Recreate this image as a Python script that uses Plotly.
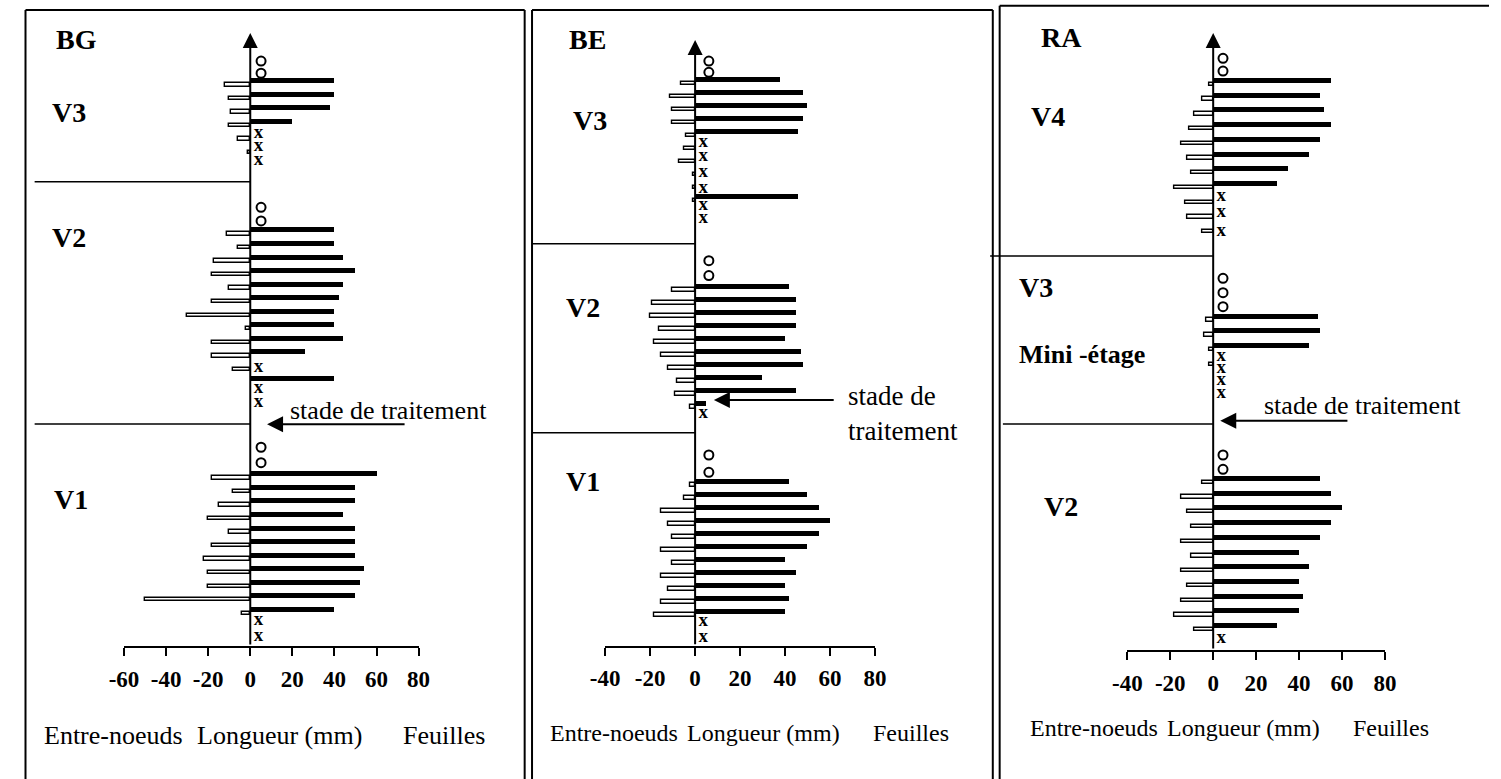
import plotly.graph_objects as go

W, H = 1501, 779
FONT = "Liberation Serif"

# ---------------- DATA ----------------
# Node ranks (position along the stem, counted from the bottom) and lengths in mm
# BG
bg_leaf_rank = [0, 1, 2, 3, 4, 5, 6, 7, 8, 9, 10, 17, 19, 20, 21, 22, 23, 24, 25, 26, 27, 28, 36, 37, 38, 39]
bg_leaf_len = [40, 50, 52, 54, 50, 50, 50, 44, 50, 50, 60, 40, 26, 44, 40, 40, 42, 44, 50, 44, 40, 40, 20, 38, 40, 40]
bg_int_rank = [0, 1, 2, 3, 4, 5, 6, 7, 8, 9, 10, 18, 19, 20, 21, 22, 23, 24, 25, 26, 27, 28, 34, 35, 36, 37, 38, 39]
bg_int_len = [-4, -50, -20, -20, -22, -18, -10, -20, -15, -8, -18, -8, -18, -18, -2, -30, -18, -10, -18, -17, -6, -11, -1, -6, -10, -9, -10, -12]
bg_x_rank = [-2.02, -0.84, 15.3, 16.3, 17.9, 33.16, 34.21, 35.17]
bg_o_rank = [10.82, 11.96, 28.66, 29.67, 39.56, 40.46]
bg_sep_rank = [13.68, 31.56]

# BE
be_leaf_rank = [0, 1, 2, 3, 4, 5, 6, 7, 8, 9, 10, 16, 17, 18, 19, 20, 21, 22, 23, 24, 25, 31.9, 36.9, 37.9, 38.9, 39.9, 40.9]
be_leaf_len = [40, 42, 40, 45, 40, 50, 55, 60, 55, 50, 42, 5, 45, 30, 48, 47, 40, 45, 45, 45, 42, 46, 46, 48, 50, 48, 38]
be_int_rank = [0, 1, 2, 3, 4, 5, 6, 7, 8, 9, 10, 16, 17, 18, 19, 20, 21, 22, 23, 24, 25,
               31.9, 32.9, 33.9, 34.9, 35.9, 36.9, 37.9, 38.9, 39.9, 40.9]
be_int_len = [-18, -15, -12, -15, -10, -15, -10, -12, -15, -5, -2, -2, -9, -8, -12, -15, -18, -16, -20, -19, -10,
              -1, -1, -1, -7, -5, -4, -10, -10, -11, -6]
be_x_rank = [-2.02, -0.82, 15.2, 30.2, 31.18, 32.5, 33.75, 34.95, 36.05]
be_o_rank = [10.67, 12.0, 25.8, 26.95, 41.44, 42.3]
be_sep_rank = [13.72, 28.25]

# RA
ra_leaf_rank = [0, 1, 2, 3, 4, 5, 6, 7, 8, 9, 10, 19, 20, 21, 30, 31, 32, 33, 34, 35, 36, 37]
ra_leaf_len = [30, 40, 42, 40, 45, 40, 50, 55, 60, 55, 50, 45, 50, 49, 30, 35, 45, 50, 55, 52, 50, 55]
ra_int_rank = [0, 1, 2, 3, 4, 5, 6, 7, 8, 9, 10, 18, 19, 20, 21, 27, 28, 29, 30, 31, 32, 33, 34, 35, 36, 37]
ra_int_len = [-9, -18, -15, -12, -15, -10, -15, -10, -12, -15, -5, -2, -2, -4, -3,
              -5, -12, -13, -18, -10, -12, -15, -11, -9, -5, -2]
ra_x_rank = [-0.85, 15.77, 16.67, 17.46, 18.3, 26.76, 28.07, 29.11]
ra_o_rank = [10.61, 11.58, 21.64, 22.59, 23.57, 37.63, 38.49]
ra_sep_rank = [13.68, 25.08]

tick_vals_bg = [-60, -40, -20, 0, 20, 40, 60, 80]
tick_vals_be = [-40, -20, 0, 20, 40, 60, 80]
tick_vals_ra = [-40, -20, 0, 20, 40, 60, 80]

# ---------------- LAYOUT GEOMETRY (pixels) ----------------
panels = [
    dict(name="BG", ticks=tick_vals_bg, xl=111, xr=411, base=646, p0=609.3, s=13.55, top=33,
         leaf=(bg_leaf_rank, bg_leaf_len), inter=(bg_int_rank, bg_int_len),
         xs=bg_x_rank, os=bg_o_rank, seps=bg_sep_rank, sep_left=[20, 20], o_off=11,
         frame=dict(l=10.7, r=519, t=10),
         labels=[("<b>BG</b>", 63, 39, 28), ("<b>V3</b>", 54.5, 112.7, 28), ("<b>V2</b>", 54.5, 238, 28),
                 ("<b>V1</b>", 57.5, 499.3, 28)],
         bottom=[("Entre-noeuds", 100.5), ("Longueur (mm)", 269.5), ("Feuilles", 436.5)], bottom_y=735, bottom_size=26,
         stade=dict(text="stade de traitement", x=380.8, y=410, align="center", size=26),
         arrow=dict(tip=256.7, tail=395.7, y=424.3)),
    dict(name="BE", ticks=tick_vals_be, xl=601, xr=875.7, base=645.7, p0=611, s=13.0, top=40,
         leaf=(be_leaf_rank, be_leaf_len), inter=(be_int_rank, be_int_len),
         xs=be_x_rank, os=be_o_rank, seps=be_sep_rank, sep_left=[526.7, 526.7], o_off=14,
         frame=dict(l=526.5, r=995.7, t=10),
         labels=[("<b>BE</b>", 582.5, 39, 28), ("<b>V3</b>", 585.5, 120.7, 28), ("<b>V2</b>", 578.5, 307, 28),
                 ("<b>V1</b>", 578, 481.7, 28)],
         bottom=[("Entre-noeuds", 610), ("Longueur (mm)", 762.3), ("Feuilles", 912.8)], bottom_y=733, bottom_size=24,
         stade=dict(text="stade de<br>traitement", x=846.7, y=413, align="left", size=27),
         arrow=dict(tip=711.7, tail=833, y=400)),
    dict(name="RA", ticks=tick_vals_ra, xl=1132.7, xr=1395, base=650, p0=625.7, s=14.74, top=33,
         leaf=(ra_leaf_rank, ra_leaf_len), inter=(ra_int_rank, ra_int_len),
         xs=ra_x_rank, os=ra_o_rank, seps=ra_sep_rank, sep_left=[1006, 993], o_off=10,
         frame=dict(l=1002.7, r=None, t=5.7),
         labels=[("<b>RA</b>", 1066, 37.7, 28), ("<b>V4</b>", 1051.5, 116, 28), ("<b>V3</b>", 1040, 287, 28),
                 ("<b>Mini -étage</b>", 1087, 355, 26), ("<b>V2</b>", 1065, 506, 28)],
         bottom=[("Entre-noeuds", 1098.7), ("Longueur (mm)", 1250.5), ("Feuilles", 1400.8)], bottom_y=728, bottom_size=24,
         stade=dict(text="stade de traitement", x=1372, y=405, align="center", size=26),
         arrow=dict(tip=1227.3, tail=1356, y=420.7)),
]

fig = go.Figure()
shapes = []
annotations = []

def px_x(p):
    return p / W

def px_y(p):
    return 1 - p / H

for i, P in enumerate(panels):
    n = "" if i == 0 else str(i + 1)
    xa, ya = "x" + n, "y" + n
    xmin = P["ticks"][0]
    ppu = (P["xr"] - P["xl"]) / (80 - xmin)
    s = P["s"]
    r_base = (P["p0"] - P["base"]) / s
    r_top = P["p0"] / s
    r_tip = (P["p0"] - P["top"]) / s
    axis_px = P["xl"] + (0 - xmin) * ppu

    fig.update_layout(**{
        "xaxis" + n: dict(domain=[P["xl"] / W, P["xr"] / W], range=[xmin, 80], anchor=ya,
                          tickvals=P["ticks"], ticktext=[str(t) for t in P["ticks"]],
                          showline=True, linecolor="black", linewidth=2,
                          ticks="outside", ticklen=8, tickwidth=2, tickcolor="black",
                          showgrid=False, zeroline=False, fixedrange=True,
                          tickfont=dict(family=FONT, size=23, color="black", weight="bold"),
                          ticklabelstandoff=3),
        "yaxis" + n: dict(domain=[1 - P["base"] / H, 1], range=[r_base, r_top], anchor=xa,
                          visible=False, fixedrange=True),
    })

    # internodes (white bars with black outline), drawn slightly under the leaf
    ir, il = P["inter"]
    fig.add_trace(go.Bar(x=il, y=[r - 4.0 / s for r in ir], orientation="h", width=3.4 / s,
                         marker=dict(color="white", line=dict(color="black", width=1.4)),
                         xaxis=xa, yaxis=ya, hoverinfo="skip"))
    # leaves (black bars)
    lr, ll = P["leaf"]
    fig.add_trace(go.Bar(x=ll, y=lr, orientation="h", width=5.0 / s,
                         marker=dict(color="black", line=dict(width=0)),
                         xaxis=xa, yaxis=ya, hoverinfo="skip"))
    # x markers
    fig.add_trace(go.Scatter(x=[8.3 / ppu] * len(P["xs"]), y=P["xs"], mode="text", text=["x"] * len(P["xs"]),
                             textfont=dict(family=FONT, size=19, color="black", weight="bold"),
                             textposition="middle center", cliponaxis=False,
                             xaxis=xa, yaxis=ya, hoverinfo="skip"))
    # o markers
    fig.add_trace(go.Scatter(x=[P["o_off"] / ppu] * len(P["os"]), y=P["os"], mode="markers",
                             marker=dict(symbol="circle-open", size=9, color="black", line=dict(width=2)),
                             cliponaxis=False, xaxis=xa, yaxis=ya, hoverinfo="skip"))

    # vertical axis with arrow
    annotations.append(dict(x=0, y=r_tip, ax=0, ay=r_base, xref=xa, yref=ya, axref=xa, ayref=ya,
                            text="", showarrow=True, arrowhead=2, arrowsize=1.5, arrowwidth=2,
                            arrowcolor="black", standoff=0, startstandoff=0))

    # separators between growth units
    for r_sep, left in zip(P["seps"], P["sep_left"]):
        shapes.append(dict(type="line", xref="paper", yref=ya, x0=px_x(left), x1=px_x(axis_px),
                           y0=r_sep, y1=r_sep, line=dict(color="black", width=1.5)))

    # frame
    f = P["frame"]
    right = f["r"] if f["r"] is not None else W
    shapes.append(dict(type="line", xref="paper", yref="paper", x0=px_x(f["l"]), x1=px_x(f["l"]),
                       y0=px_y(f["t"]), y1=0, line=dict(color="black", width=2)))
    shapes.append(dict(type="line", xref="paper", yref="paper", x0=px_x(f["l"]), x1=px_x(right),
                       y0=px_y(f["t"]), y1=px_y(f["t"]), line=dict(color="black", width=2)))
    if f["r"] is not None:
        shapes.append(dict(type="line", xref="paper", yref="paper", x0=px_x(f["r"]), x1=px_x(f["r"]),
                           y0=px_y(f["t"]), y1=0, line=dict(color="black", width=2)))

    # labels
    for txt, lx, ly, sz in P["labels"]:
        annotations.append(dict(text=txt, x=px_x(lx), y=px_y(ly), xref="paper", yref="paper",
                                xanchor="center", yanchor="middle", showarrow=False,
                                font=dict(family=FONT, size=sz, color="black")))
    for txt, bx in P["bottom"]:
        annotations.append(dict(text=txt, x=px_x(bx), y=px_y(P["bottom_y"]), xref="paper", yref="paper",
                                xanchor="center", yanchor="middle", showarrow=False,
                                font=dict(family=FONT, size=P["bottom_size"], color="black")))
    st = P["stade"]
    annotations.append(dict(text=st["text"], x=px_x(st["x"]), y=px_y(st["y"]), xref="paper", yref="paper",
                            xanchor="left" if st["align"] == "left" else "center", yanchor="middle",
                            align=st["align"], showarrow=False,
                            font=dict(family=FONT, size=st["size"], color="black")))
    a = P["arrow"]
    annotations.append(dict(text="", x=px_x(a["tip"]), y=px_y(a["y"]), xref="paper", yref="paper",
                            ax=a["tail"] - a["tip"], ay=0, showarrow=True, arrowhead=2, arrowsize=1.6,
                            arrowwidth=2, arrowcolor="black", standoff=0))

fig.update_layout(width=W, height=H, margin=dict(l=0, r=0, t=0, b=0),
                  paper_bgcolor="white", plot_bgcolor="rgba(0,0,0,0)",
                  barmode="overlay", showlegend=False, bargap=0,
                  shapes=shapes, annotations=annotations,
                  font=dict(family=FONT, color="black"))

fig.write_html("out.html", config={"displayModeBar": False})
